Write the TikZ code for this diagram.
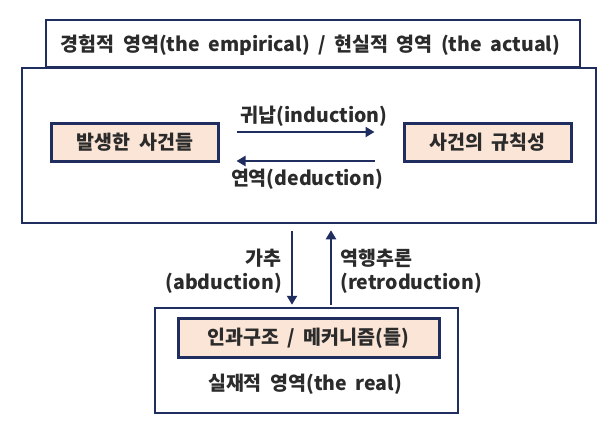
\documentclass[tikz,border=0pt]{standalone}
\usepackage{fontspec}
\setmainfont{Noto Sans CJK KR}[WordSpace=1.9]
\usepackage{xcolor}
\usepackage{tikz}
\usetikzlibrary{arrows.meta}
\definecolor{navy}{HTML}{1F2D5F}
\definecolor{peach}{HTML}{FBE5D6}
\definecolor{ink}{HTML}{2B2B2B}

\begin{document}
\begin{tikzpicture}[x=1bp,y=-1bp]
\tikzstyle{every node}+=[inner sep=0pt,text=ink,font=\fontsize{19.5bp}{24bp}\selectfont\bfseries]
\tikzstyle{domainbox}=[draw=navy,line width=2.5bp,fill=white,rectangle]
\tikzstyle{itembox}=[draw=navy,line width=3bp,fill=peach,rectangle,minimum height=38bp]
\tikzstyle{flow}=[navy,line width=2.8bp,-{Triangle[length=9bp,width=10bp]}]
\useasboundingbox (0,0) rectangle (612,420);
\node [domainbox,minimum width=534bp,minimum height=47bp] (header) at (313,43.5) {};
\node (headertext) at (310.5,45) {경험적 영역(the empirical) / 현실적 영역 (the actual)};
\node [domainbox,minimum width=574bp,minimum height=155bp] (empirical) at (309,145.5) {};
\node [itembox,minimum width=166bp] (events) at (135,142.5) {발생한 사건들};
\node [itembox,minimum width=167bp] (regularity) at (487.5,142.5) {사건의 규칙성};
\draw [flow,shorten <=17bp,shorten >=28bp] ([yshift=10.5bp]events.east) -- ([yshift=10.5bp]regularity.west);
\draw [flow,shorten <=28bp,shorten >=17bp] ([yshift=-18.5bp]regularity.west) -- ([yshift=-18.5bp]events.east);
\node (induction) at (314,116) {귀납(induction)};
\node (deduction) at (307,179) {연역(deduction)};
\node [domainbox,minimum width=303bp,minimum height=105bp] (real) at (306.5,360.5) {};
\node [itembox,minimum width=261bp,minimum height=39bp] (mechanism) at (308.5,338) {인과구조 / 메커니즘(들)};
\node (reallabel) at (305,384) {실재적 영역(the real)};
\draw [flow,shorten <=7bp,shorten >=2bp] ([xshift=-14.5bp]empirical.south -| real.north) -- ([xshift=-14.5bp]real.north);
\draw [flow,shorten <=2bp,shorten >=6bp] ([xshift=24.5bp]real.north) -- ([xshift=24.5bp]empirical.south -| real.north);
\node [anchor=east,align=right] (abduction) at (282,271) {가추\\(abduction)};
\node [anchor=west,align=left] (retroduction) at (340,271) {역행추론\\(retroduction)};
\end{tikzpicture}
\end{document}
